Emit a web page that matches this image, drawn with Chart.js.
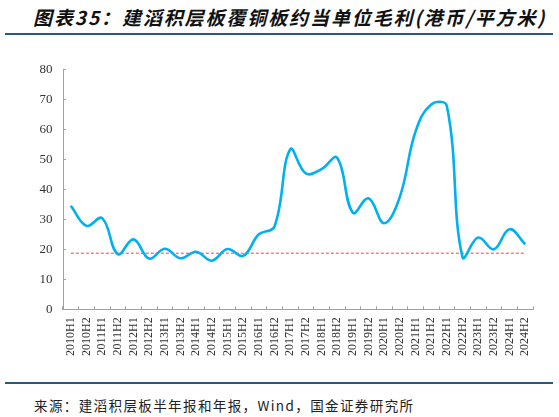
<!DOCTYPE html>
<html>
<head>
<meta charset="utf-8">
<script src="https://cdn.jsdelivr.net/npm/chart.js@4/dist/chart.umd.min.js"></script>
<style>
  body { margin: 0; background: #fff; width: 559px; height: 417px; position: relative; overflow: hidden; }
  #title { position: absolute; left: 33px; top: 3px; font-family: "Noto Sans CJK SC"; font-weight: bold; font-style: italic; font-size: 19px; letter-spacing: 1.9px; color: #111; white-space: nowrap; }
  .rule { position: absolute; left: 5px; width: 548px; height: 2px; background: #2a5a7a; }
  #source { position: absolute; left: 34px; top: 395px; font-family: "Noto Sans CJK SC"; font-size: 13.5px; letter-spacing: 1.4px; color: #222; white-space: nowrap; }
  #wrap { position: absolute; left: 0; top: 48px; width: 559px; height: 317px; }
</style>
</head>
<body>
<div id="title">图表35：建滔积层板覆铜板约当单位毛利(港币/平方米)</div>
<div class="rule" style="top:33px"></div>
<div id="wrap"><canvas id="myChart"></canvas></div>
<div class="rule" style="top:382px"></div>
<div id="source">来源：建滔积层板半年报和年报，Wind，国金证券研究所</div>
<script>
// half-year periods
const labels = ["2010H1","2010H2","2011H1","2011H2","2012H1","2012H2","2013H1","2013H2","2014H1","2014H2",
                "2015H1","2015H2","2016H1","2016H2","2017H1","2017H2","2018H1","2018H2","2019H1","2019H2",
                "2020H1","2020H2","2021H1","2021H2","2022H1","2022H2","2023H1","2023H2","2024H1","2024H2"];

// gross profit per unit (HKD / sq m)
const profit = [34.5, 27.8, 30.4, 18.4, 23.3, 16.9, 20.2, 17.0, 19.2, 16.2,
                20.1, 17.8, 25.0, 27.6, 53.3, 45.3, 46.7, 50.5, 32.2, 37.0,
                28.7, 37.5, 59.2, 68.3, 67.8, 17.4, 23.9, 20.0, 26.7, 21.7];

// red dashed reference level
const refLevel = 18.7;

const yTicks = [0, 10, 20, 30, 40, 50, 60, 70, 80];

const axisGrey = '#a0a0a0';

// serif tick labels everywhere
Chart.defaults.font.family = "'Liberation Serif', 'Times New Roman', serif";

const ctx = document.getElementById('myChart').getContext('2d');
const myChart = new Chart(ctx, {
    type: 'line',
    data: {
        labels: labels,
        datasets: [{
            data: profit,
            borderColor: '#00b0f0',
            borderWidth: 2.6,
            tension: 0.4,
            pointRadius: 0,
            fill: false
        }, {
            data: labels.map(() => refLevel),
            borderColor: '#ee4444',
            borderWidth: 1,
            borderDash: [3, 2],
            pointRadius: 0,
            tension: 0,
            fill: false
        }]
    },
    options: {
        responsive: true,
        maintainAspectRatio: false,
        animation: false,
        layout: { padding: { top: 0, right: 26, left: 0, bottom: 0 } },
        plugins: { legend: { display: false }, tooltip: { enabled: false } },
        scales: {
            x: {
                offset: true,
                grid: { display: true, drawOnChartArea: false, offset: true, tickLength: -3, color: axisGrey },
                border: { display: true, color: axisGrey, width: 1 },
                ticks: {
                    autoSkip: false,
                    maxRotation: 90,
                    minRotation: 90,
                    padding: 11,
                    color: '#333',
                    font: { size: 12 }
                },
                afterFit: function (scale) { scale.height = 55.7; }
            },
            y: {
                min: 0,
                max: 80,
                afterBuildTicks: function (scale) { scale.ticks = yTicks.map(v => ({ value: v })); },
                grid: { display: true, drawOnChartArea: false, tickLength: -3, color: axisGrey },
                border: { display: true, color: axisGrey, width: 1 },
                ticks: {
                    padding: 13.5,
                    color: '#333',
                    font: { size: 13 }
                },
                afterFit: function (scale) { scale.width = 63; }
            }
        }
    }
});
</script>
</body>
</html>
